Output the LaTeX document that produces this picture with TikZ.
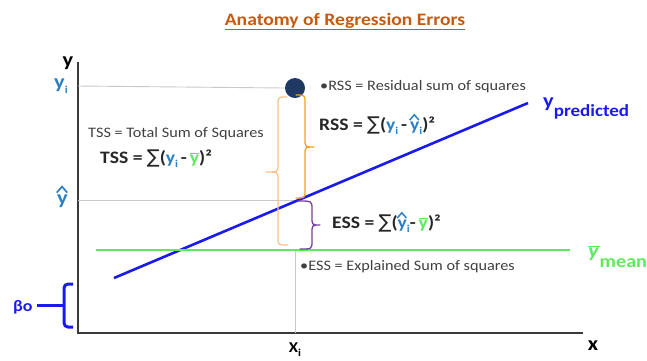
\documentclass[tikz,border=0pt]{standalone}
\usepackage{fontspec}
\setmainfont{Carlito}[FakeStretch=1.12]
\newfontfamily\dejavu{DejaVu Sans}
\definecolor{ttl}{HTML}{C55A11}
\definecolor{lblue}{HTML}{2E7FC2}
\definecolor{pblue}{HTML}{1A1AEE}
\definecolor{mgreen}{HTML}{5EEA5E}
\definecolor{navy}{HTML}{1F3864}
\definecolor{peach}{HTML}{FAC28E}
\definecolor{rorange}{HTML}{F5A21E}
\definecolor{purp}{HTML}{7B3F9E}
\definecolor{txtgray}{HTML}{404040}
\definecolor{gridc}{HTML}{C8C8C8}
\definecolor{axisc}{HTML}{3A3A3A}
\definecolor{fmlc}{HTML}{262626}
\newcommand{\sbi}[1]{\raisebox{-0.28em}{\fontsize{10.5}{10.5}\selectfont #1}}
\newcommand{\hatmark}{\rlap{\tikz[baseline=0pt]{\useasboundingbox (0pt,0pt) rectangle (0.45em,0.1em);\draw[line width=0.085em, line join=miter] (-0.02em,0.57em) -- (0.24em,0.87em) -- (0.5em,0.57em);}}}
\newcommand{\ybar}{\textcolor{mgreen}{$\overline{\hbox{y}}$}}
\newcommand{\yhi}{\textcolor{lblue}{\hatmark y\sbi{i}}}
\newcommand{\yii}{\textcolor{lblue}{y\sbi{i}}}
\newcommand{\sumsym}{{\dejavu\mdseries\fontsize{19}{19}\selectfont ∑}}
\begin{document}
\begin{tikzpicture}[x=1pt,y=-1pt,
  gridln/.style={draw=gridc, line width=0.9pt},
  axisln/.style={draw=axisc, line width=2pt},
  lbl/.style={inner sep=0pt, anchor=base west},
  note/.style={lbl, text=txtgray, font=\fontsize{14.5}{16}\selectfont},
  fml/.style={lbl, text=fmlc, font=\fontsize{17.5}{19}\selectfont\bfseries},
  big/.style={lbl, font=\fontsize{20}{22}\selectfont\bfseries},
  bracestyle/.style={line width=1.3pt, line cap=round, line join=round},
  b0/.style={draw=pblue, line width=3pt, rounded corners=4pt}]
\useasboundingbox (0,0) rectangle (647,360);
% title
\node[lbl, anchor=base, text=ttl, font=\fontsize{17.5}{20}\selectfont\bfseries] (title) at (345,25) {\underline{Anatomy of Regression Errors}};
% axes
\coordinate (O) at (78,333);
\coordinate (Ytop) at (78,62);
\coordinate (Xend) at (583,333);
\draw[axisln] (Ytop) -- (O) -- (Xend);
\node[big, anchor=base, text=black] (ylab) at (68,66) {y};
\node[big, anchor=base, text=black] (xlab) at (593,350) {x};
\node[big, text=lblue] (yilab) at (54,88) {y\sbi{i}};
\node[big, text=lblue] (yhlab) at (57,204) {\hatmark y};
% guide lines
\node[circle, fill=navy, minimum size=20pt, inner sep=0pt] (pt) at (295,88) {};
\coordinate (yiax) at (78,86);
\draw[gridln] (yiax) -- (pt.west);
\coordinate (yhax) at (78,200);
\coordinate (yhend) at (297,200);
\draw[gridln] (yhax) -- (yhend);
\coordinate (vtop) at (295,251);
\coordinate (vbot) at (295,333);
\draw[gridln] (vtop) -- (vbot);
\node[big, anchor=base] (xilab) at (295,352) {\fontsize{15}{16}\selectfont X\sbi{i}};
% regression line and mean
\coordinate (P1) at (114,278);
\coordinate (P2) at (528,103);
\draw[pblue, line width=2.6pt] (P1) -- (P2);
\coordinate (G1) at (96,250);
\coordinate (G2) at (570,250);
\draw[mgreen, line width=1.6pt] (G1) -- (G2);
\node[big, text=pblue] (ypred) at (543,107) {y\raisebox{-0.45em}{\fontsize{17}{18}\selectfont predicted}};
\node[big, text=mgreen] (ymean) at (588,257) {$\overline{\hbox{\itshape y\kern0.05em}}$\raisebox{-0.5em}{\fontsize{18}{18}\selectfont mean}};
% braces
\draw[peach, bracestyle] (287,97) .. controls (278,97) .. (278,105) -- (278,164) .. controls (278,172) .. (266,172) .. controls (278,172) .. (278,180) -- (278,237) .. controls (278,245) .. (288,245);
\draw[rorange, bracestyle] (296,95) .. controls (305,95) .. (305,103) -- (305,139) .. controls (305,147) .. (314,147) .. controls (305,147) .. (305,155) -- (305,190) .. controls (305,198) .. (296,198);
\draw[purp, bracestyle] (298,201) .. controls (312,201) .. (312,209) -- (312,217) .. controls (312,225) .. (320,225) .. controls (312,225) .. (312,233) -- (312,241) .. controls (312,249) .. (300,249);
% texts
\node[note] (rssn) at (320,90) {•RSS = Residual sum of squares};
\node[note] (tssn) at (88,137) {TSS = Total Sum of Squares};
\node[note] (essn) at (300,270) {•ESS = Explained Sum of squares};
\node[fml] (rssf) at (319,130) {RSS = \sumsym(\yii\,-\,\yhi)²};
\node[fml] (tssf) at (100,163) {TSS = \sumsym(\yii\,-\,\ybar)²};
\node[fml] (essf) at (332,228) {ESS = \sumsym(\yhi-\,\ybar)²};
% beta0
\coordinate (bt) at (73,284);
\coordinate (bb) at (73,327);
\draw[b0] (bt) -- (64,284) -- (64,327) -- (bb);
\coordinate (bm) at (64,305);
\node[lbl, text=pblue, font=\fontsize{16}{18}\selectfont\bfseries] (b0lab) at (13,311) {βo};
\draw[pblue, line width=3pt] (b0lab.base east) ++(4,-6) coordinate (bl) -- (bm);
\end{tikzpicture}
\end{document}
